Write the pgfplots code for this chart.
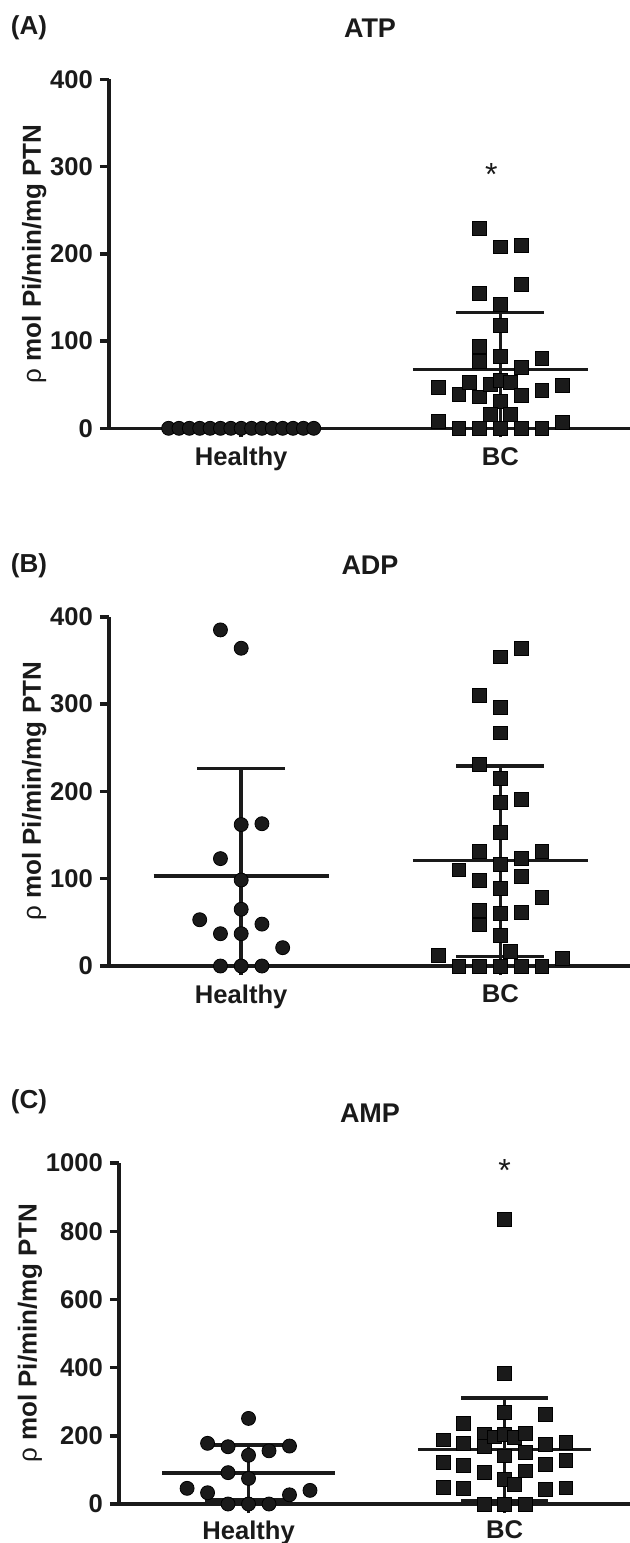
\documentclass[border=0pt]{standalone}
\usepackage{fontspec}
\setmainfont{Liberation Sans}
\usepackage{pgfplots}
\pgfplotsset{compat=1.18}
\definecolor{ink}{HTML}{1A1A1A}

\pgfplotsset{
  panel/.style={
    scale only axis,
    axis lines=left,
    axis line style={-, line width=1.7pt, ink},
    clip=false,
    tick style={line width=1.7pt, ink},
    tick align=outside,
    major tick length=4.5pt,
    xmin=0.49, xmax=2.5,
    xtick={1,2}, xticklabels={Healthy,BC},
    /pgf/number format/assume math mode=true,
    /pgf/number format/1000 sep={},
    tick label style={font=\bfseries\fontsize{12.8}{15}\selectfont, text=ink},
    xticklabel style={yshift=-1.5pt},
    ylabel={{\mdseries ρ} mol Pi/min/mg PTN},
    label style={font=\bfseries\fontsize{13}{15}\selectfont, text=ink},
    ylabel style={yshift=-5pt},
    anchor=south west,
  },
  ln/.style={ink, line width=1.7pt, mark=none},
  dots/.style={only marks, mark=*, mark size=3.5pt, mark options={fill=ink, draw=none}},
  sqs/.style={only marks, mark=square*, mark size=3.45pt, mark options={fill=ink, draw=none}},
}

\begin{document}
\begin{tikzpicture}
\path[use as bounding box] (0,0) rectangle (315pt,-771.5pt);

% ---------- (A) ATP ----------
\node[font=\bfseries\fontsize{13}{15}\selectfont, text=ink] at (14.5pt,-14pt) {(A)};
\node[font=\bfseries\fontsize{13.5}{16}\selectfont, text=ink] at (185pt,-14pt) {ATP};
\begin{axis}[panel, at={(54.5pt,-214.15pt)}, width=260.5pt, height=174.5pt,
  ymin=0, ymax=400, ytick={0,100,200,300,400}]
\addplot[ln] coordinates {(1.662,67.4)(2.338,67.4)};
\addplot[ln] coordinates {(1.83,132.5)(2.17,132.5)};
\addplot[ln] coordinates {(2,0)(2,132.5)};
\addplot[dots] coordinates {
 (0.72,0)(0.76,0)(0.80,0)(0.84,0)(0.88,0)(0.92,0)(0.96,0)(1.00,0)
 (1.04,0)(1.08,0)(1.12,0)(1.16,0)(1.20,0)(1.24,0)(1.28,0)};
\addplot[sqs] coordinates {
 (1.92,229)(2.00,208)(2.08,210)(2.08,165)(1.92,155)(2.00,142)(2.00,118)
 (1.92,94)(1.92,77)(2.00,82)(2.16,80)(2.08,70)(1.76,47)(1.84,39)(1.88,53)
 (1.92,36)(1.96,50)(2.00,55)(2.04,53)(2.08,38)(2.16,43)(2.24,49)(2.00,31)
 (1.96,16)(2.04,16)(1.76,8)(2.24,6.5)(1.84,0)(1.92,0)(2.00,0)(2.08,0)(2.16,0)};
\node[anchor=base, font=\fontsize{16}{18}\selectfont, text=ink] at (axis cs:1.965,278) {*};
\end{axis}

% ---------- (B) ADP ----------
\node[font=\bfseries\fontsize{13}{15}\selectfont, text=ink] at (14.5pt,-283pt) {(B)};
\node[font=\bfseries\fontsize{13.5}{16}\selectfont, text=ink] at (185pt,-282.5pt) {ADP};
\begin{axis}[panel, at={(54.5pt,-483pt)}, width=260.5pt, height=174.6pt,
  ymin=0, ymax=400, ytick={0,100,200,300,400}]
\addplot[ln] coordinates {(0.662,103)(1.338,103)};
\addplot[ln] coordinates {(0.83,226)(1.17,226)};
\addplot[ln] coordinates {(1,0)(1,226)};
\addplot[ln] coordinates {(1.662,120.6)(2.338,120.6)};
\addplot[ln] coordinates {(1.83,229)(2.17,229)};
\addplot[ln] coordinates {(1.83,11)(2.17,11)};
\addplot[ln] coordinates {(2,0)(2,229)};
\addplot[dots] coordinates {
 (0.92,385)(1.00,364)(1.00,162)(1.08,163)(0.92,123)(1.00,98.5)(0.84,53)
 (1.00,65)(1.08,48)(0.92,37)(1.00,37)(1.16,21)(0.92,0)(1.00,0)(1.08,0)};
\addplot[sqs] coordinates {
 (2.08,364)(2.00,354)(1.92,310)(2.00,296)(2.00,267)(1.92,231)(2.00,215)
 (2.08,191)(2.00,187)(2.00,153)(1.92,131)(2.16,131)(2.08,123)(2.00,116)
 (1.84,110)(1.92,98)(2.08,103)(2.00,89)(2.16,79)(1.92,64)(1.92,47)(2.00,60)
 (2.08,61)(2.00,35.5)(2.04,17)(1.76,12)(2.24,9)
 (1.84,0)(1.92,0)(2.00,0)(2.08,0)(2.16,0)};
\end{axis}

% ---------- (C) AMP ----------
\node[font=\bfseries\fontsize{13}{15}\selectfont, text=ink] at (14.5pt,-551pt) {(C)};
\node[font=\bfseries\fontsize{13.5}{16}\selectfont, text=ink] at (185pt,-556.5pt) {AMP};
\begin{axis}[panel, at={(59.5pt,-752pt)}, width=255.5pt, height=170.5pt,
  xmin=0.494, xmax=2.49,
  xticklabel style={yshift=1pt},
  ymin=0, ymax=1000, ytick={0,200,400,600,800,1000}]
\addplot[ln] coordinates {(0.662,90.5)(1.338,90.5)};
\addplot[ln] coordinates {(0.83,173)(1.17,173)};
\addplot[ln] coordinates {(0.83,12)(1.17,12)};
\addplot[ln] coordinates {(1,0)(1,173)};
\addplot[ln] coordinates {(1.662,160.5)(2.338,160.5)};
\addplot[ln] coordinates {(1.83,311)(2.17,311)};
\addplot[ln] coordinates {(1.83,10)(2.17,10)};
\addplot[ln] coordinates {(2,0)(2,311)};
\addplot[dots] coordinates {
 (1.00,251)(0.84,178)(0.92,168)(1.16,170)(1.00,143)(1.08,156)(0.92,92)
 (1.00,75)(0.76,46)(0.84,33)(1.24,40)(1.16,27)(0.92,0)(1.00,0)(1.08,0)};
\addplot[sqs] coordinates {
 (2.00,835)(2.00,382)(2.00,269)(2.16,263)(1.84,236)(1.76,188)(1.84,178)
 (1.92,204)(1.92,170)(1.96,197)(2.00,204)(2.04,195)(2.08,206)(2.16,175)
 (2.24,180)(2.00,141)(2.08,151)(1.76,122)(1.84,114)(2.24,129)(2.16,117)
 (1.92,92)(2.08,97)(2.00,73)(2.04,58)(1.76,49)(1.84,46)(2.16,44)(2.24,47)
 (1.92,0)(2.00,0)(2.08,0)};
\node[anchor=base, font=\fontsize{16}{18}\selectfont, text=ink] at (axis cs:2.0,945) {*};
\end{axis}
\end{tikzpicture}
\end{document}
